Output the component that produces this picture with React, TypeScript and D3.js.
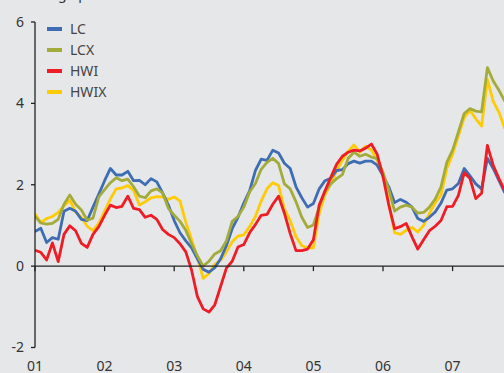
import React from "react";
import * as d3 from "d3";

const years = ["01", "02", "03", "04", "05", "06", "07"];
const yTicks = [-2, 0, 2, 4, 6];
const seriesNames = ["LC", "LCX", "HWI", "HWIX"];
const seriesColors = ["#3f6db3", "#a3ab3b", "#ee1d25", "#ffcb05"];

// Monthly values, Jan 2001 – Oct 2007
const LC = [
  0.85, 0.93, 0.58, 0.7, 0.66, 1.35, 1.42, 1.35, 1.15, 1.12, 1.45, 1.77,
  2.1, 2.4, 2.24, 2.24, 2.33, 2.1, 2.11, 2.0, 2.15, 2.07, 1.8, 1.5,
  1.12, 0.82, 0.62, 0.45, 0.18, -0.08, -0.15, -0.04, 0.18, 0.5, 0.92, 1.2,
  1.55, 1.85, 2.35, 2.63, 2.6, 2.85, 2.78, 2.53, 2.4, 1.95, 1.68, 1.45,
  1.54, 1.9, 2.1, 2.16, 2.35, 2.37, 2.52, 2.58, 2.53, 2.58, 2.58, 2.48,
  2.22, 1.95, 1.56, 1.64, 1.57, 1.45, 1.17, 1.1, 1.2, 1.33, 1.55, 1.87,
  1.9, 2.03, 2.4, 2.22, 2.02, 1.9, 2.65, 2.4, 2.1, 1.8,
];
const LCX = [
  1.22, 1.06, 1.03, 1.05, 1.15, 1.52, 1.75, 1.52, 1.38, 1.13, 1.18, 1.7,
  1.88, 2.05, 2.17, 2.1, 2.14, 1.95, 1.72, 1.68, 1.85, 1.9, 1.8, 1.42,
  1.25, 1.1, 0.88, 0.55, 0.25, 0.0, 0.12, 0.3, 0.38, 0.62, 1.1, 1.22,
  1.45, 1.82, 2.03, 2.38, 2.55, 2.65, 2.52, 2.02, 1.9, 1.58, 1.2, 0.95,
  1.01, 1.45, 1.83, 2.02, 2.15, 2.25, 2.65, 2.8, 2.7, 2.75, 2.68, 2.64,
  2.3, 1.88, 1.35, 1.45, 1.5, 1.45, 1.3, 1.32, 1.45, 1.65, 1.95, 2.55,
  2.85, 3.3, 3.75, 3.87, 3.81, 3.79, 4.88, 4.55, 4.32, 4.05,
];
const HWI = [
  0.39, 0.34, 0.15, 0.57, 0.11, 0.78, 0.99, 0.87, 0.56, 0.46, 0.78, 0.97,
  1.25, 1.5, 1.44, 1.47, 1.72, 1.42, 1.39, 1.2, 1.25, 1.15, 0.9, 0.78,
  0.7, 0.55, 0.35, -0.1, -0.75, -1.05, -1.13, -0.95, -0.5, -0.05, 0.12, 0.47,
  0.53, 0.82, 1.02, 1.25, 1.27, 1.52, 1.72, 1.3, 0.8, 0.38, 0.38, 0.42,
  0.65, 1.5, 1.85, 2.18, 2.5, 2.7, 2.8, 2.85, 2.83, 2.9, 3.0, 2.75,
  2.2, 1.5, 0.92, 0.97, 1.05, 0.72, 0.42, 0.65, 0.87, 0.98, 1.12, 1.46,
  1.47, 1.74, 2.3, 2.15, 1.66, 1.79, 2.97, 2.48, 2.15, 1.85,
];
const HWIX = [
  1.29, 1.07, 1.17, 1.22, 1.32, 1.48, 1.62, 1.33, 1.2, 0.98, 0.87, 1.05,
  1.35, 1.65, 1.9, 1.92, 1.98, 1.86, 1.5, 1.58, 1.68, 1.71, 1.7, 1.64,
  1.7, 1.6, 1.08, 0.65, 0.2, -0.3, -0.18, 0.05, 0.14, 0.35, 0.6, 0.74,
  0.77, 0.97, 1.22, 1.6, 1.9, 2.05, 1.98, 1.4, 1.12, 0.72, 0.5, 0.45,
  0.45, 1.3, 1.75, 2.02, 2.35, 2.6, 2.82, 2.98, 2.8, 2.95, 2.85, 2.6,
  2.3, 1.55, 0.82, 0.78, 0.88, 0.95, 0.84, 1.0, 1.3, 1.55, 1.75, 2.4,
  2.75, 3.2, 3.65, 3.83, 3.62, 3.44, 4.59, 4.05, 3.78, 3.38,
];

const seriesData = [LC, LCX, HWI, HWIX];
const drawOrder = [3, 0, 1, 2];

const W = 504;
const H = 373;
const font = "'Noto Sans', 'Open Sans', sans-serif";

export default function App() {
  const x = d3.scaleLinear().domain([0, 72]).range([35, 452.6]);
  const y = d3.scaleLinear().domain([-2, 6]).range([347.5, 22]);
  const line = d3
    .line<number>()
    .x((_, i) => x(i))
    .y((d) => y(d));

  return (
    <svg
      width={W}
      height={H}
      style={{ position: "absolute", left: 0, top: 0, background: "#e6e7e9" }}
      fontFamily={font}
    >
      <rect x={0} y={0} width={W} height={H} fill="#e6e7e9" />
      <text x={0} y={-1} fontSize={14} fill="#333">
        Percentage points
      </text>
      <defs>
        <clipPath id="plot">
          <rect x={35} y={0} width={W - 35} height={H} />
        </clipPath>
      </defs>
      <g clipPath="url(#plot)">
        {drawOrder.map((k) => (
          <path
            key={seriesNames[k]}
            d={line(seriesData[k]) || ""}
            fill="none"
            stroke={seriesColors[k]}
            strokeWidth={2.8}
            strokeLinejoin="round"
          />
        ))}
      </g>
      {/* y axis */}
      <line x1={35} x2={35} y1={y(6)} y2={y(-2)} stroke="#222" strokeWidth={1.3} />
      {yTicks.map((t) => (
        <g key={t}>
          <line x1={31} x2={35} y1={y(t)} y2={y(t)} stroke="#222" strokeWidth={1.3} />
          <text
            x={24}
            y={y(t)}
            dy="0.35em"
            textAnchor="end"
            fontSize={14}
            fill="#333"
          >
            {t}
          </text>
        </g>
      ))}
      {/* x axis */}
      <line x1={35} x2={W} y1={y(0)} y2={y(0)} stroke="#222" strokeWidth={1.3} />
      {years.map((lab, i) => (
        <g key={lab}>
          <line
            x1={x(i * 12)}
            x2={x(i * 12)}
            y1={y(0)}
            y2={y(0) + 5}
            stroke="#222"
            strokeWidth={1.3}
          />
          <text x={x(i * 12)} y={371} textAnchor="middle" fontSize={14} fill="#333">
            {lab}
          </text>
        </g>
      ))}
      {/* legend */}
      {seriesNames.map((name, i) => (
        <g key={name}>
          <line
            x1={47}
            x2={62}
            y1={29 + i * 21}
            y2={29 + i * 21}
            stroke={seriesColors[i]}
            strokeWidth={4}
          />
          <text x={70} y={29 + i * 21} dy="0.35em" fontSize={14} fill="#444">
            {name}
          </text>
        </g>
      ))}
    </svg>
  );
}
